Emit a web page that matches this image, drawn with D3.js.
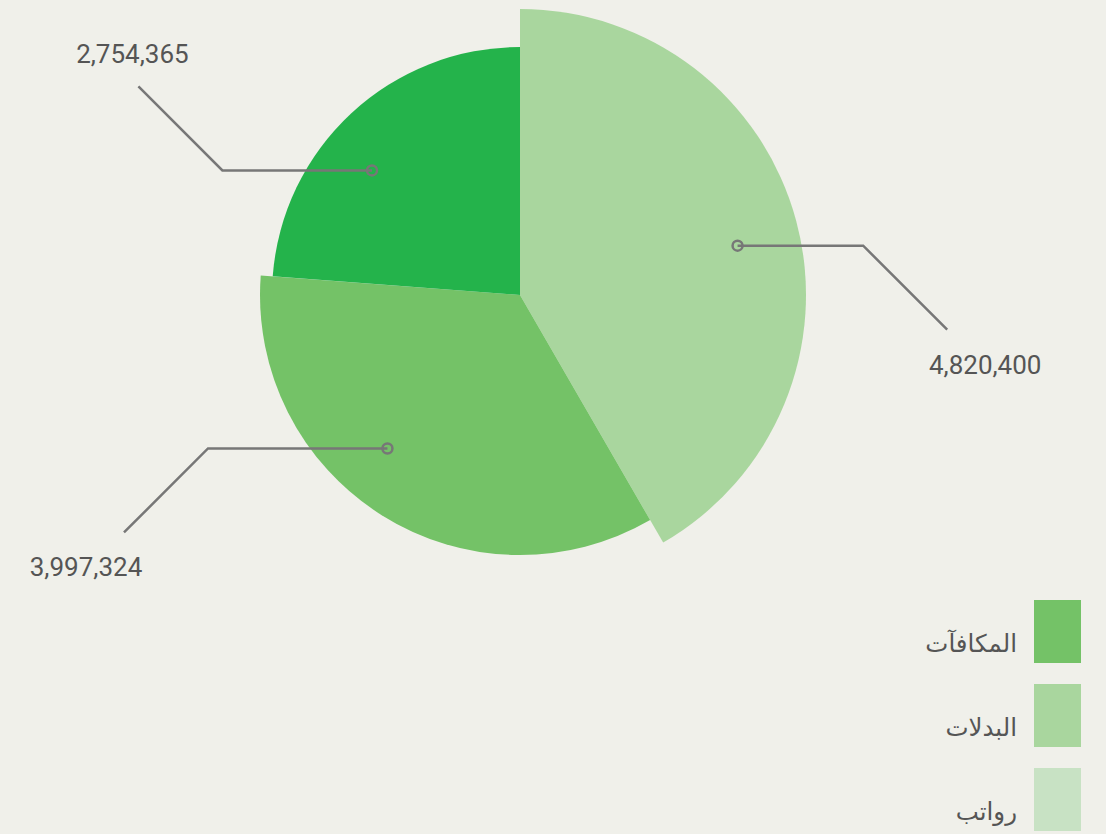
<!DOCTYPE html>
<html>
<head>
<meta charset="utf-8">
<script src="https://cdn.jsdelivr.net/npm/d3@7"></script>
<style>
  html, body { margin: 0; padding: 0; background: #f0f0ea; }
  svg { display: block; }
  .value-label { font-family: Roboto, "DejaVu Sans", sans-serif; font-size: 26px; fill: #555; }
  .legend-label { font-family: "DejaVu Sans", sans-serif; font-size: 24.5px; fill: #555; }
</style>
</head>
<body>
<svg id="chart" width="1106" height="834"></svg>
<script>
// slice values, clockwise from 12 o'clock
const sliceValues = [4820400, 3997324, 2754365];
const sliceColors = ['#a9d69e', '#74c267', '#24b34b'];

// legend entries (as shown, top to bottom)
const legendLabels = ['المكافآت', 'البدلات', 'رواتب'];
const legendColors = ['#74c267', '#a9d69e', '#c8e2c4'];

const width = 1106;
const height = 834;
const cx = 520;
const cy = 295;
const lineColor = '#777';

const svg = d3.select('#chart');

// outer radius grows with the value (steeply near the top)
const radius = d3.scalePow()
    .exponent(5.7)
    .domain(d3.extent(sliceValues))
    .range([248, 286]);

const pie = d3.pie().sort(null).value(d => d);
const arcs = pie(sliceValues);

const arc = d3.arc()
    .innerRadius(0)
    .outerRadius(d => radius(d.data));

const g = svg.append('g')
    .attr('transform', `translate(${cx}, ${cy})`);

g.selectAll('path.slice')
  .data(arcs)
  .join('path')
    .attr('class', 'slice')
    .attr('fill', (d, i) => sliceColors[i])
    .attr('d', arc);

// leader lines + labels
const fmt = d3.format(',');

const labels = g.selectAll('g.label')
  .data(arcs)
  .join('g')
    .attr('class', 'label');

labels.each(function(d) {
  const r = radius(d.data);
  let mid = (d.startAngle + d.endAngle) / 2;
  // nudge the anchor toward the horizontal
  const side = Math.sin(mid) >= 0 ? 1 : -1;
  const horiz = side > 0 ? Math.PI / 2 : Math.PI * 1.5;
  mid += (horiz - mid) * 0.15;
  const px = Math.sin(mid) * r * 0.78;
  const py = -Math.cos(mid) * r * 0.78;
  const up = Math.cos(mid) > 0.5 ? -1 : 1;
  const ex = side * r * 1.2;
  const diag = 84;
  const tx = ex + side * diag;
  const ty = py + up * diag;

  const el = d3.select(this);
  el.append('polyline')
      .attr('points', [[px, py], [ex, py], [tx, ty]].map(p => p.join(',')).join(' '))
      .attr('fill', 'none')
      .attr('stroke', lineColor)
      .attr('stroke-width', 2.5);
  el.append('circle')
      .attr('cx', px)
      .attr('cy', py)
      .attr('r', 5)
      .attr('fill', 'none')
      .attr('stroke', lineColor)
      .attr('stroke-width', 2.5);
  el.append('text')
      .attr('class', 'value-label')
      .attr('x', up > 0 ? tx + side * 38 : tx - 6)
      .attr('y', up > 0 ? ty + 44 : ty - 23)
      .attr('text-anchor', 'middle')
      .text(fmt(d.data));
});

// legend
const legend = svg.append('g')
    .attr('transform', 'translate(1034, 600)');

const item = legend.selectAll('g')
  .data(legendLabels)
  .join('g')
    .attr('transform', (d, i) => `translate(0, ${i * 84})`);

item.append('rect')
    .attr('width', 47)
    .attr('height', 63)
    .attr('fill', (d, i) => legendColors[i]);

item.append('text')
    .attr('class', 'legend-label')
    .attr('x', -17)
    .attr('y', 52)
    .attr('text-anchor', 'end')
    .text(d => d);
</script>
</body>
</html>
